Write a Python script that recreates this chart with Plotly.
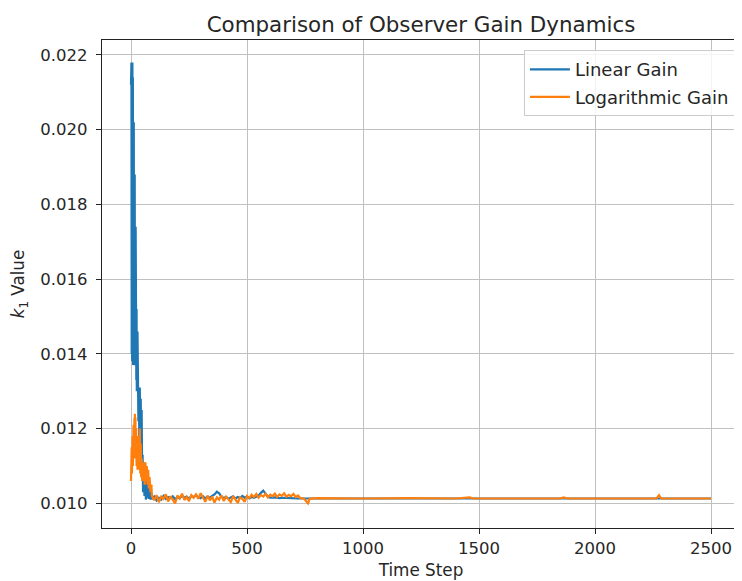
import plotly.graph_objects as go

# ---- data ----
linear_t = [0, 1, 2, 3, 4, 5, 6, 7, 8, 9, 10, 11, 12, 13, 14, 15, 16, 17, 18, 19,
            20, 21, 22, 23, 24, 25, 26, 27, 28, 29, 30, 32, 34, 36, 38, 40, 42, 44,
            46, 48, 50, 52, 55, 58, 61, 64, 67, 70, 73, 76, 80, 84, 88,
            90, 100, 110, 120, 130, 140, 150, 160, 170, 180, 190, 200, 210, 220, 230,
            240, 250, 260, 270, 280, 290, 300, 310, 320, 330, 340, 350, 360, 370, 380,
            390, 400, 410, 420, 430, 440, 450, 460, 470, 480, 490, 500, 510, 520, 530,
            540, 550, 560, 570, 580, 590, 600, 620, 640, 660, 690, 720, 1000, 1500,
            2000, 2500]
linear_k1 = [0.0212, 0.0145, 0.0218, 0.0140, 0.0217, 0.0138, 0.0218, 0.0142, 0.0214, 0.0137,
             0.0203, 0.0139, 0.0202, 0.0138, 0.0201, 0.0140, 0.0188, 0.0137, 0.0180, 0.0139,
             0.0174, 0.0136, 0.0160, 0.0133, 0.0152, 0.0130, 0.0146, 0.0133, 0.0146, 0.0128,
             0.0145, 0.0122, 0.0131, 0.0115, 0.0131, 0.0112, 0.0128, 0.0110,
             0.0125, 0.0107, 0.0113, 0.0103, 0.0111, 0.0102, 0.0110, 0.0101, 0.0108, 0.01015,
             0.0106, 0.01012, 0.0104, 0.01010, 0.01025,
             0.01012, 0.01018, 0.01008, 0.01015, 0.01010, 0.01020, 0.01012, 0.01017, 0.01014,
             0.01019, 0.01011, 0.01016, 0.01013, 0.01021, 0.01015, 0.01018, 0.01012, 0.01020,
             0.01016, 0.01022, 0.01017, 0.01014, 0.01019, 0.01013, 0.01018, 0.01015, 0.01020,
             0.01024, 0.01031, 0.01027, 0.01018, 0.01014, 0.01017, 0.01012, 0.01016, 0.01019,
             0.01013, 0.01017, 0.01014, 0.01020, 0.01015, 0.01018, 0.01013, 0.01017, 0.01015,
             0.01019, 0.01021, 0.01028, 0.01034, 0.01026, 0.01018, 0.01015, 0.01016, 0.01014,
             0.01015, 0.01014, 0.01013, 0.01013, 0.01013, 0.01013, 0.01013]

log_t = [0, 1, 2, 3, 4, 5, 6, 7, 8, 9, 10, 11, 12, 13, 14, 15, 16, 17, 18, 19,
         20, 22, 24, 26, 28, 30, 32, 34, 36, 38, 40, 42, 44, 46, 48, 50, 53, 56,
         59, 62, 65, 68, 71, 74, 77, 80, 84, 88,
         90, 100, 110, 120, 130, 140, 150, 160, 170, 180,
         190, 200, 210, 220, 230, 240, 250, 260, 270, 280,
         290, 300, 310, 320, 330, 340, 350, 360, 370, 380,
         390, 400, 410, 420, 430, 440, 450, 460, 470, 480,
         490, 500, 510, 520, 530, 540, 550, 560, 570, 580,
         590, 600, 610, 620, 630, 640, 650, 660, 670, 680,
         690, 700, 710, 720,
         730, 745, 763, 770, 800, 900, 1000, 1200, 1400, 1460, 1475, 1600, 1850,
         1865, 1880, 2100, 2265, 2276, 2285, 2400, 2500]
log_k1 = [0.0106, 0.0113, 0.0107, 0.0115, 0.0108, 0.0116, 0.0109, 0.0118, 0.0110, 0.0119,
          0.0111, 0.0121, 0.0112, 0.0122, 0.0113, 0.0123, 0.0114, 0.0124, 0.0113, 0.0123,
          0.0112, 0.0120, 0.0110, 0.0118, 0.0109, 0.0117, 0.0109, 0.0118, 0.0110, 0.0120,
          0.0108, 0.0116, 0.0107, 0.0112, 0.0106, 0.0111, 0.0106, 0.0111,
          0.0105, 0.0111, 0.0106, 0.0110, 0.0105, 0.0109, 0.0104, 0.0107, 0.0103, 0.0105,
          0.01020, 0.01008, 0.01022, 0.01003, 0.01018, 0.01012, 0.01024, 0.01005, 0.01019, 0.01010,
          0.01000, 0.01021, 0.01013, 0.01026, 0.01009, 0.01017, 0.01006, 0.01022, 0.01015, 0.01024,
          0.01012, 0.01027, 0.01016, 0.01004, 0.01020, 0.01008, 0.01018, 0.01002, 0.01016, 0.01010,
          0.01021, 0.01006, 0.01018, 0.01011, 0.01003, 0.01019, 0.01008, 0.01001, 0.01016, 0.01012,
          0.01004, 0.01020, 0.01014, 0.01023, 0.01017, 0.01025, 0.01015, 0.01022, 0.01018, 0.01026,
          0.01016, 0.01023, 0.01019, 0.01026, 0.01017, 0.01024, 0.01020, 0.01027, 0.01018, 0.01023,
          0.01019, 0.01025, 0.01017, 0.01021,
          0.01014, 0.01013, 0.01000, 0.01012, 0.01014, 0.01013, 0.01013, 0.01014, 0.01013, 0.01016,
          0.01013, 0.01013, 0.01013, 0.01016, 0.01013, 0.01013, 0.01013, 0.01022, 0.01013, 0.01013,
          0.01013]

x_ticks = [0, 500, 1000, 1500, 2000, 2500]
y_ticks = [0.010, 0.012, 0.014, 0.016, 0.018, 0.020, 0.022]

FONT = "DejaVu Sans"
TXT = "#262626"

fig = go.Figure()
fig.add_trace(go.Scatter(x=linear_t, y=linear_k1, mode="lines", name="Linear Gain",
                         legendgroup="a", line=dict(color="#1f77b4", width=2.2)))
fig.add_trace(go.Scatter(x=log_t, y=log_k1, mode="lines", name="Logarithmic Gain",
                         legendgroup="b", line=dict(color="#ff7f0e", width=2.2)))

axis_common = dict(showline=True, linecolor="#222222", linewidth=1.2, mirror=True,
                   ticks="outside", ticklen=5, tickcolor="#222222", tickwidth=1.2,
                   showgrid=True, gridcolor="#c0c0c0", gridwidth=1.2, zeroline=False,
                   tickfont=dict(family=FONT, size=16.5, color=TXT))

fig.update_layout(
    width=734, height=573,
    margin=dict(l=94, r=2, t=32, b=53),
    paper_bgcolor="white", plot_bgcolor="white",
    title=dict(text="Comparison of Observer Gain Dynamics", x=0.5,
               xref="paper", xanchor="center",
               y=0.972, yanchor="middle",
               font=dict(family=FONT, size=21.4, color=TXT)),
    xaxis=dict(range=[-125, 2625], tickvals=x_ticks, ticktext=[str(v) for v in x_ticks],
               title=dict(text="Time Step", font=dict(family=FONT, size=16.8, color=TXT),
                          standoff=7),
               **axis_common),
    yaxis=dict(range=[0.00934, 0.02240], tickvals=y_ticks,
               ticktext=[f"{v:.3f}" for v in y_ticks], ticklabelstandoff=5,
               title=dict(text="<i>k</i><sub>1</sub> Value",
                          font=dict(family=FONT, size=16.8, color=TXT), standoff=13),
               **axis_common),
    legend=dict(x=0.992, y=0.979, xanchor="right", yanchor="top",
                traceorder="grouped", tracegroupgap=1, itemwidth=40,
                bgcolor="rgba(255,255,255,0.8)", bordercolor="#cccccc", borderwidth=1,
                font=dict(family=FONT, size=18, color=TXT)),
    showlegend=True,
)

fig.write_html("out.html")
